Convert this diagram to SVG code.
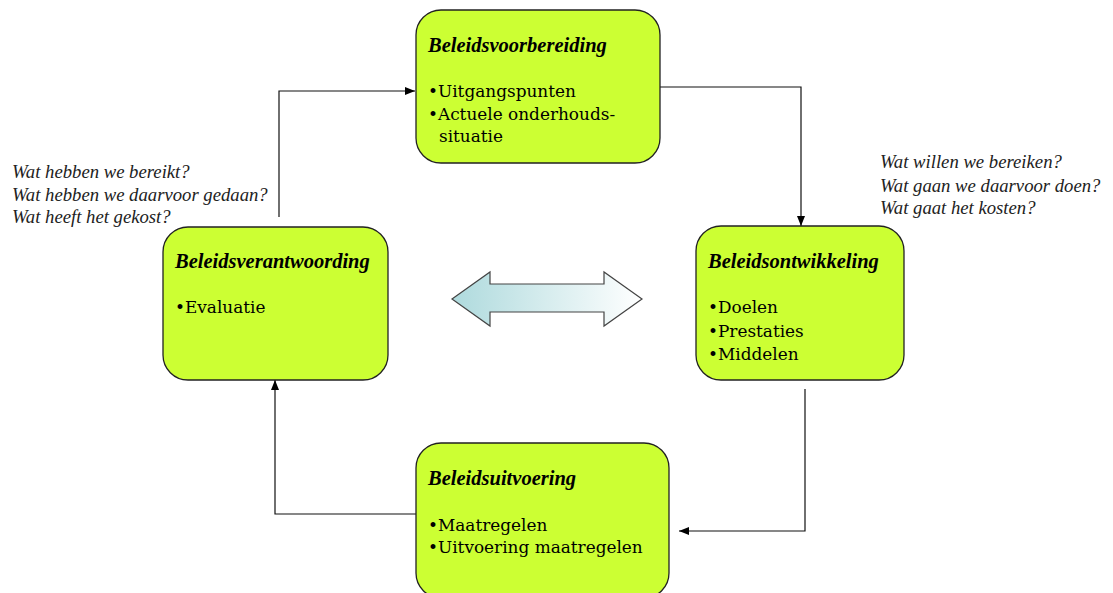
<svg xmlns="http://www.w3.org/2000/svg" width="1113" height="593" viewBox="0 0 1113 593">
<style>
.box{fill:#ccff33;stroke:#222;stroke-width:1.3}
.t{font-family:"DejaVu Serif","Liberation Serif",serif;font-size:16.9px;fill:#000}
.h{font-family:"Liberation Serif",serif;font-weight:bold;font-style:italic;font-size:20.5px;fill:#000}
.q{font-family:"Liberation Serif",serif;font-style:italic;font-size:18.7px;fill:#222}
.c{fill:none;stroke:#111;stroke-width:1.2}
</style>
<defs>
<marker id="ah" viewBox="0 0 10 10" refX="10" refY="5" markerWidth="10" markerHeight="10" markerUnits="userSpaceOnUse" orient="auto">
<path d="M0,1 L10,5 L0,9 z" fill="#000"/>
</marker>
<linearGradient id="g" x1="0" y1="0" x2="1" y2="0">
<stop offset="0" stop-color="#aedadd"/>
<stop offset="1" stop-color="#ffffff"/>
</linearGradient>
</defs>
<g id="connectors">
<path class="c" d="M660,87 H801 V226" marker-end="url(#ah)"/>
<path class="c" d="M805,389 V531 H679" marker-end="url(#ah)"/>
<path class="c" d="M416,514 H275 V380" marker-end="url(#ah)"/>
<path class="c" d="M279,217 V91 H415" marker-end="url(#ah)"/>
</g>
<g id="voorbereiding">
<rect class="box" x="416" y="10" width="244" height="153" rx="25"/>
<text class="h" x="428" y="52">Beleidsvoorbereiding</text>
<text class="t" x="428" y="97">•Uitgangspunten</text>
<text class="t" x="428" y="120">•Actuele onderhouds-</text>
<text class="t" x="439" y="142">situatie</text>
</g>
<g id="ontwikkeling">
<rect class="box" x="696" y="226" width="208" height="154" rx="25"/>
<text class="h" x="708" y="268">Beleidsontwikkeling</text>
<text class="t" x="708" y="313">•Doelen</text>
<text class="t" x="708" y="337">•Prestaties</text>
<text class="t" x="708" y="360">•Middelen</text>
</g>
<g id="uitvoering">
<rect class="box" x="416" y="443" width="253" height="155" rx="25"/>
<text class="h" x="428" y="485">Beleidsuitvoering</text>
<text class="t" x="428" y="531">•Maatregelen</text>
<text class="t" x="428" y="553">•Uitvoering maatregelen</text>
</g>
<g id="verantwoording">
<rect class="box" x="163" y="227" width="225" height="153" rx="25"/>
<text class="h" x="175" y="268">Beleidsverantwoording</text>
<text class="t" x="175" y="313">•Evaluatie</text>
</g>
<g id="questions-right">
<text class="q" x="880" y="168">Wat willen we bereiken?</text>
<text class="q" x="880" y="192">Wat gaan we daarvoor doen?</text>
<text class="q" x="880" y="214">Wat gaat het kosten?</text>
</g>
<g id="questions-left">
<text class="q" x="12" y="178">Wat hebben we bereikt?</text>
<text class="q" x="12" y="201">Wat hebben we daarvoor gedaan?</text>
<text class="q" x="12" y="223">Wat heeft het gekost?</text>
</g>
<g id="double-arrow">
<polygon points="452,299 490,272 490,284 604,284 604,272 642,299 604,326 604,312 490,312 490,326" fill="url(#g)" stroke="#444" stroke-width="1.2"/>
</g>
</svg>
